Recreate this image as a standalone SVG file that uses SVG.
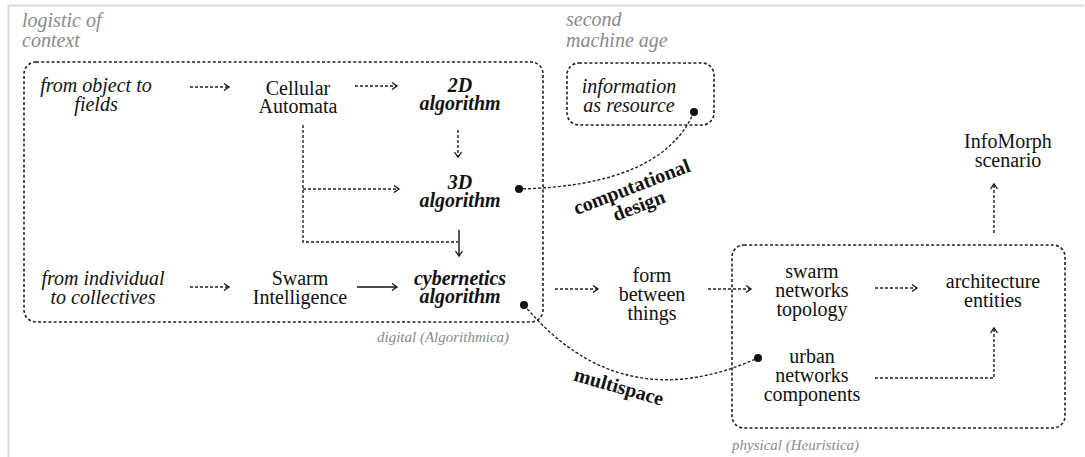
<svg xmlns="http://www.w3.org/2000/svg" width="1085" height="457" viewBox="0 0 1085 457" font-family="'Liberation Serif', 'Times New Roman', serif">
<style>
text{font-family:'Liberation Serif','Times New Roman',serif;font-size:20px;fill:#111;text-anchor:middle}
tspan{font-family:'Liberation Serif','Times New Roman',serif}
.it{font-style:italic}
.bi{font-style:italic;font-weight:bold}
.b{font-weight:bold}
.gray{fill:#8a8a8a;font-style:italic;text-anchor:start}
.sm{font-size:15px}
.box{fill:none;stroke:#222;stroke-width:1.6;stroke-dasharray:3 2.2}
.dl{fill:none;stroke:#222;stroke-width:1.4;stroke-dasharray:3 2}
.sl{fill:none;stroke:#111;stroke-width:1.4}
.dot{fill:#111}
</style>
<defs>
<marker id="ah" markerUnits="userSpaceOnUse" markerWidth="10" markerHeight="10" refX="6" refY="4" orient="auto" overflow="visible">
<path d="M1,0.5 L6,4 L1,7.5" fill="none" stroke="#111" stroke-width="1.3"/>
</marker>
</defs>
<rect width="1085" height="457" fill="#fff"/>
<g id="frame" stroke="#d9d9d9" stroke-width="2" fill="none">
<path d="M8.5,457 V5.5 H1084"/>
</g>
<g id="group-digital">
<rect class="box" x="24" y="62" width="519" height="260" rx="12"/>
<text class="gray sm" font-family="Liberation Serif" x="377" y="342">digital (Algorithmica)</text>
</g>
<g id="group-second">
<rect class="box" x="567" y="63" width="147" height="62" rx="12"/>
</g>
<g id="group-physical">
<rect class="box" x="732" y="245" width="333" height="183" rx="12"/>
<text class="gray sm" font-family="Liberation Serif" x="732" y="450">physical (Heuristica)</text>
</g>
<g id="label-logistic"><text class="gray" font-family="Liberation Serif" x="22" y="27">logistic of<tspan x="22" y="47">context</tspan></text></g>
<g id="label-second"><text class="gray" font-family="Liberation Serif" x="566" y="26">second<tspan x="566" y="47">machine age</tspan></text></g>
<g id="n-object"><text class="it" font-family="Liberation Serif" x="96" y="92">from object to<tspan x="96" y="111">fields</tspan></text></g>
<g id="n-cellular"><text font-family="Liberation Serif" x="298" y="95">Cellular<tspan x="298" y="113">Automata</tspan></text></g>
<g id="n-2d"><text class="bi" font-family="Liberation Serif" x="460" y="92">2D<tspan x="460" y="110">algorithm</tspan></text></g>
<g id="n-3d"><text class="bi" font-family="Liberation Serif" x="460" y="189">3D<tspan x="460" y="207">algorithm</tspan></text></g>
<g id="n-info"><text class="it" font-family="Liberation Serif" x="629" y="93">information<tspan x="629" y="112">as resource</tspan></text></g>
<g id="n-individual"><text class="it" font-family="Liberation Serif" x="103" y="285">from individual<tspan x="103" y="304">to collectives</tspan></text></g>
<g id="n-swarm"><text font-family="Liberation Serif" x="300" y="285">Swarm<tspan x="300" y="304">Intelligence</tspan></text></g>
<g id="n-cyber"><text class="bi" font-family="Liberation Serif" x="460" y="285">cybernetics<tspan x="460" y="303">algorithm</tspan></text></g>
<g id="n-form"><text font-family="Liberation Serif" x="652" y="282">form<tspan x="652" y="301">between</tspan><tspan x="652" y="320">things</tspan></text></g>
<g id="n-swarmnet"><text font-family="Liberation Serif" x="812" y="278">swarm<tspan x="812" y="297">networks</tspan><tspan x="812" y="316">topology</tspan></text></g>
<g id="n-arch"><text font-family="Liberation Serif" x="993" y="288">architecture<tspan x="993" y="307">entities</tspan></text></g>
<g id="n-urban"><text font-family="Liberation Serif" x="812" y="363">urban<tspan x="812" y="382">networks</tspan><tspan x="812" y="401">components</tspan></text></g>
<g id="n-infomorph"><text font-family="Liberation Serif" x="1008" y="148">InfoMorph<tspan x="1008" y="167">scenario</tspan></text></g>
<g id="connectors">
<path class="dl" d="M190,87 H229" marker-end="url(#ah)"/>
<path class="dl" d="M355,86 H397" marker-end="url(#ah)"/>
<path class="dl" d="M458,130 V157" marker-end="url(#ah)"/>
<path class="dl" d="M303,125 V242 H458"/>
<path class="dl" d="M303,189 H399" marker-end="url(#ah)"/>
<path class="sl" d="M459,230 V256" marker-end="url(#ah)"/>
<path class="dl" d="M190,287 H229" marker-end="url(#ah)"/>
<path class="sl" d="M357,287 H397" marker-end="url(#ah)"/>
<path class="dl" d="M555,289 H598" marker-end="url(#ah)"/>
<path class="dl" d="M708,289 H751" marker-end="url(#ah)"/>
<path class="dl" d="M875,288 H917" marker-end="url(#ah)"/>
<path class="dl" d="M875,378 H994 V328" marker-end="url(#ah)"/>
<path class="dl" d="M994,233 V184" marker-end="url(#ah)"/>
<path class="dl" d="M694,112 Q662,186 519,189"/>
<circle class="dot" cx="694" cy="112" r="4"/>
<circle class="dot" cx="519" cy="189" r="4"/>
<path class="dl" d="M524,305 Q620,420 758,358"/>
<circle class="dot" cx="524" cy="305" r="4"/>
<circle class="dot" cx="758" cy="358" r="4"/>
<text class="b" font-family="Liberation Serif" transform="translate(634,193) rotate(-21)" x="0" y="0">computational<tspan x="0" y="20">design</tspan></text>
<text class="b" font-family="Liberation Serif" transform="translate(617,393) rotate(16)" x="0" y="0">multispace</text>
</g>
</svg>
